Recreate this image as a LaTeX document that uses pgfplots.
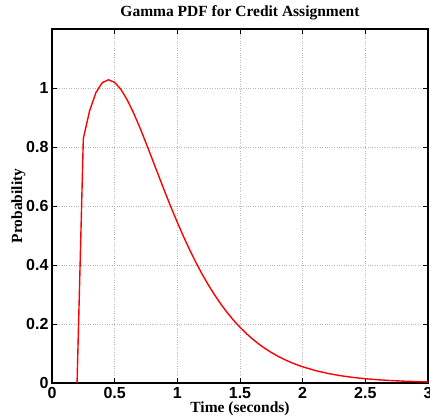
\documentclass[border=0pt]{standalone}
\usepackage{fontspec}
\setmainfont{Liberation Serif}
\newfontfamily\ticksans{Liberation Sans}
\usepackage{pgfplots}
\pgfplotsset{compat=1.18}
\usetikzlibrary{calc}

\begin{document}
\begin{tikzpicture}
\begin{axis}[
  name=ax, at={(0,0)}, anchor=south west,
  scale only axis, width=376bp, height=354bp,
  xmin=0, xmax=3, ymin=0, ymax=1.2,
  xtick={0,0.5,1,1.5,2,2.5,3}, ytick={0,0.2,0.4,0.6,0.8,1},
  tick align=inside, major tick length=5bp,
  tick style={black, line width=0.8pt},
  axis line style={black, line width=1.2pt},
  grid=major, major grid style={dotted, gray!55, line width=0.7pt},
  /pgf/number format/assume math mode=true,
  ticklabel style={font=\ticksans\bfseries\fontsize{16bp}{16bp}\selectfont},
  xticklabel style={yshift=-1bp},
  title={Gamma PDF for Credit Assignment},
  title style={font=\bfseries\fontsize{15.5bp}{18bp}\selectfont, at={(axis description cs:0.5,1)}, anchor=base, inner sep=0pt, yshift=7bp},
  xlabel={Time (seconds)},
  xlabel style={font=\bfseries\fontsize{15.5bp}{18bp}\selectfont, at={(axis description cs:0.5,0)}, anchor=north, inner sep=0pt, yshift=-19bp},
  ylabel={Probability},
  ylabel style={font=\bfseries\fontsize{15.5bp}{18bp}\selectfont, at={(axis description cs:-0.089,0.5)}, anchor=center, inner sep=0pt},
]
\addplot[red, line width=1.4pt] coordinates {
(0.20,0) (0.25,0.829) (0.30,0.9225) (0.35,0.9840) (0.40,1.0176) (0.45,1.0279)
(0.50,1.0190) (0.55,0.9952) (0.60,0.9598) (0.65,0.9161) (0.70,0.8667)
(0.75,0.8136) (0.80,0.7587) (0.85,0.7034) (0.90,0.6487) (0.95,0.5955)
(1.00,0.5444) (1.05,0.4958) (1.10,0.4500) (1.15,0.4072) (1.20,0.3674)
(1.25,0.3306) (1.30,0.2969) (1.35,0.2659) (1.40,0.2377) (1.45,0.2121)
(1.50,0.1889) (1.55,0.1680) (1.60,0.1491) (1.65,0.1322) (1.70,0.1170)
(1.75,0.1034) (1.80,0.0914) (1.85,0.0806) (1.90,0.0710) (1.95,0.0625)
(2.00,0.0549) (2.10,0.0424) (2.20,0.0325) (2.30,0.0249) (2.40,0.0190)
(2.50,0.0145) (2.60,0.0110) (2.70,0.0084) (2.80,0.0063) (2.90,0.0048)
(3.00,0.0036)
};
\end{axis}
\pgfresetboundingbox
\path ($(ax.south west)+(-52bp,-34bp)$) rectangle ($(ax.north east)+(2bp,29bp)$);
\end{tikzpicture}
\end{document}
